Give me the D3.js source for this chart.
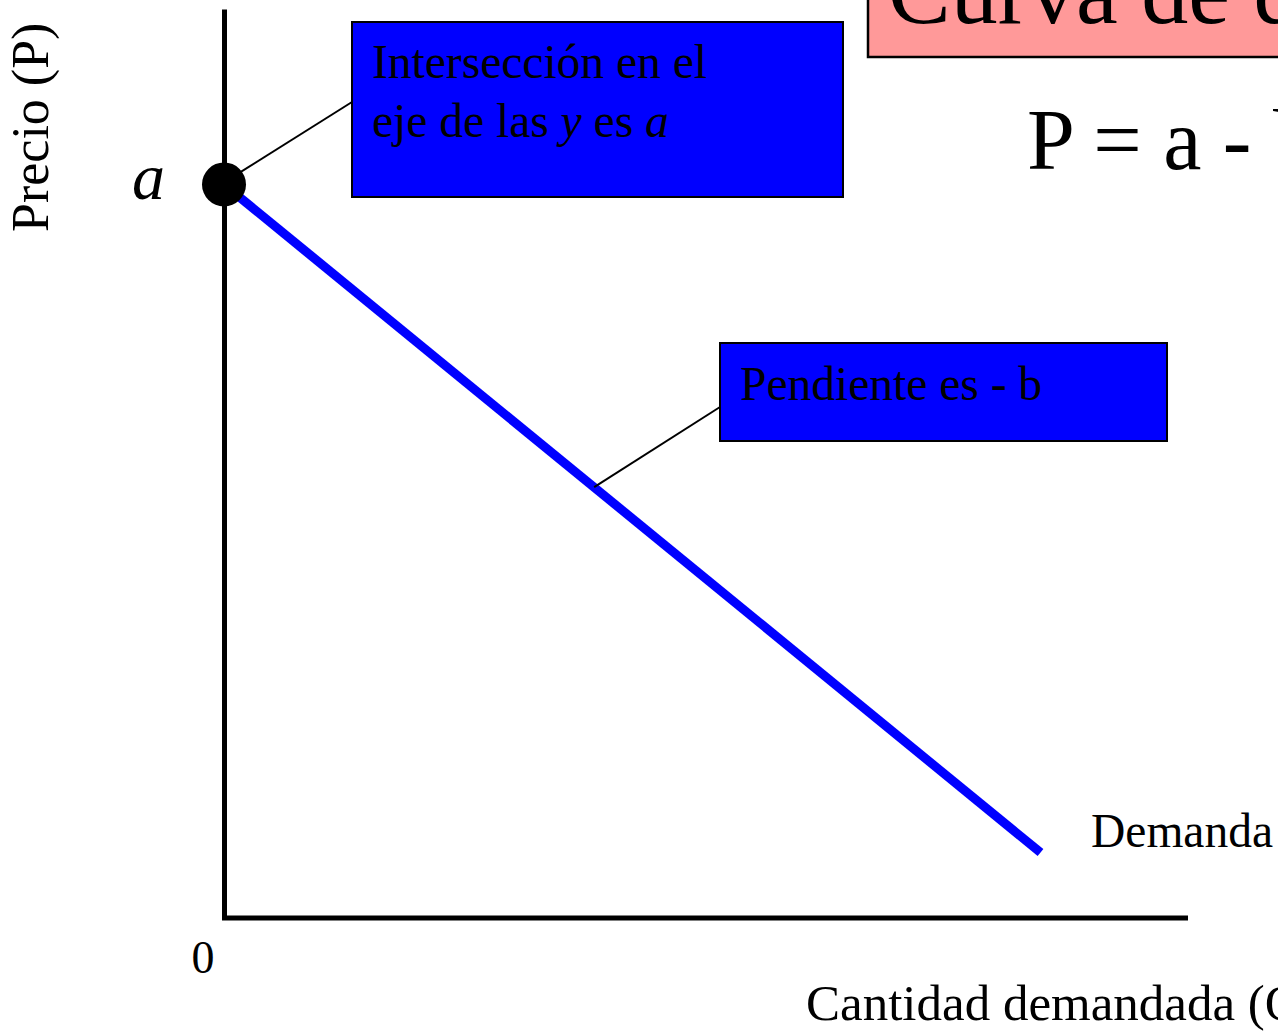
<!DOCTYPE html>
<html>
<head>
<meta charset="utf-8">
<script src="https://cdn.jsdelivr.net/npm/d3@7"></script>
<style>
  html, body { margin: 0; padding: 0; background: #fff; overflow: hidden; }
  svg text { font-family: "Liberation Serif", "Times New Roman", serif; fill: #000; }
</style>
</head>
<body>
<div id="chart"></div>
<script>
// ---------- Data ----------
const demandQ = [0, 8.47];       // cantidad (arbitrary units)
const demandP = [8.07, 0.72];    // precio
const interceptA = 8.07;         // a
const slopePoint = [3.84, 4.74]; // point on the line where the "pendiente" callout points
const originLabel = "0";

// ---------- Dimensions ----------
const W = 1278, H = 1033;
const xScale = d3.scaleLinear().domain([0, 10]).range([224, 1188]);
const yScale = d3.scaleLinear().domain([0, 10]).range([918, 9]);

const svg = d3.select("#chart")
  .append("svg")
  .attr("width", W)
  .attr("height", H);

// ---------- Title box (cut off at the right, as in the slide) ----------
svg.append("rect")
  .attr("x", 868).attr("y", -20)
  .attr("width", 480).attr("height", 77)
  .attr("fill", "#ff9999")
  .attr("stroke", "#000").attr("stroke-width", 2.5);

svg.append("text")
  .attr("x", 888).attr("y", 23)
  .style("font-size", "94px")
  .text("Curva de demanda");

svg.append("text")
  .attr("x", 1027).attr("y", 169)
  .style("font-family", "'Liberation Serif', serif")
  .style("font-size", "86px")
  .text("P = a - bQ");

// ---------- Axes ----------
const yAxis = svg.append("g")
  .attr("transform", `translate(${xScale(0)},0)`)
  .call(d3.axisLeft(yScale).tickValues([]).tickSizeOuter(0));

const xAxis = svg.append("g")
  .attr("transform", `translate(0,${yScale(0)})`)
  .call(d3.axisBottom(xScale).tickValues([]).tickSizeOuter(0));

[yAxis, xAxis].forEach(g => g.select(".domain")
  .attr("stroke", "#000").attr("stroke-width", 5));
xAxis.select(".domain").attr("d", `M${xScale(0) - 2},0H${xScale(10)}`);

svg.append("text")
  .attr("x", xScale(0) - 21).attr("y", yScale(0) + 55)
  .attr("text-anchor", "middle")
  .style("font-size", "46px")
  .text(originLabel);

svg.append("text")
  .attr("transform", "translate(48,232) rotate(-90)")
  .style("font-size", "52px")
  .text("Precio (P)");

svg.append("text")
  .attr("x", 806).attr("y", 1020)
  .style("font-size", "51px")
  .text("Cantidad demandada (Q)");

// ---------- Demand line ----------
const line = d3.line()
  .x(d => xScale(d[0]))
  .y(d => yScale(d[1]));

svg.append("path")
  .datum(d3.zip(demandQ, demandP))
  .attr("d", line)
  .attr("fill", "none")
  .attr("stroke", "#0000ff")
  .attr("stroke-width", 9);

svg.append("text")
  .attr("x", 1091).attr("y", 847)
  .style("font-size", "47.5px")
  .text("Demanda");

// ---------- Intercept point ----------
svg.append("circle")
  .attr("cx", xScale(0)).attr("cy", yScale(interceptA))
  .attr("r", 22)
  .attr("fill", "#000");

svg.append("text")
  .attr("x", 132).attr("y", 199)
  .style("font-size", "66px")
  .style("font-style", "italic")
  .text("a");

// ---------- Callouts ----------
// leader lines
svg.append("line")
  .attr("x1", xScale(0) + 16).attr("y1", yScale(interceptA) - 12)
  .attr("x2", 352).attr("y2", 102)
  .attr("stroke", "#000").attr("stroke-width", 2);

svg.append("line")
  .attr("x1", xScale(slopePoint[0])).attr("y1", yScale(slopePoint[1]))
  .attr("x2", 720).attr("y2", 407)
  .attr("stroke", "#000").attr("stroke-width", 2);

// box 1
svg.append("rect")
  .attr("x", 352).attr("y", 22)
  .attr("width", 491).attr("height", 175)
  .attr("fill", "#0000ff")
  .attr("stroke", "#000").attr("stroke-width", 2);

svg.append("text")
  .attr("x", 372).attr("y", 78)
  .style("font-size", "47.5px")
  .text("Intersección en el");

const t2 = svg.append("text")
  .attr("x", 372).attr("y", 137)
  .style("font-size", "47.5px");
t2.append("tspan").text("eje de las ");
t2.append("tspan").style("font-style", "italic").text("y");
t2.append("tspan").text(" es ");
t2.append("tspan").style("font-style", "italic").text("a");

// box 2
svg.append("rect")
  .attr("x", 720).attr("y", 343)
  .attr("width", 447).attr("height", 98)
  .attr("fill", "#0000ff")
  .attr("stroke", "#000").attr("stroke-width", 2);

svg.append("text")
  .attr("x", 740).attr("y", 400)
  .style("font-size", "47.5px")
  .text("Pendiente es - b");
</script>
</body>
</html>
